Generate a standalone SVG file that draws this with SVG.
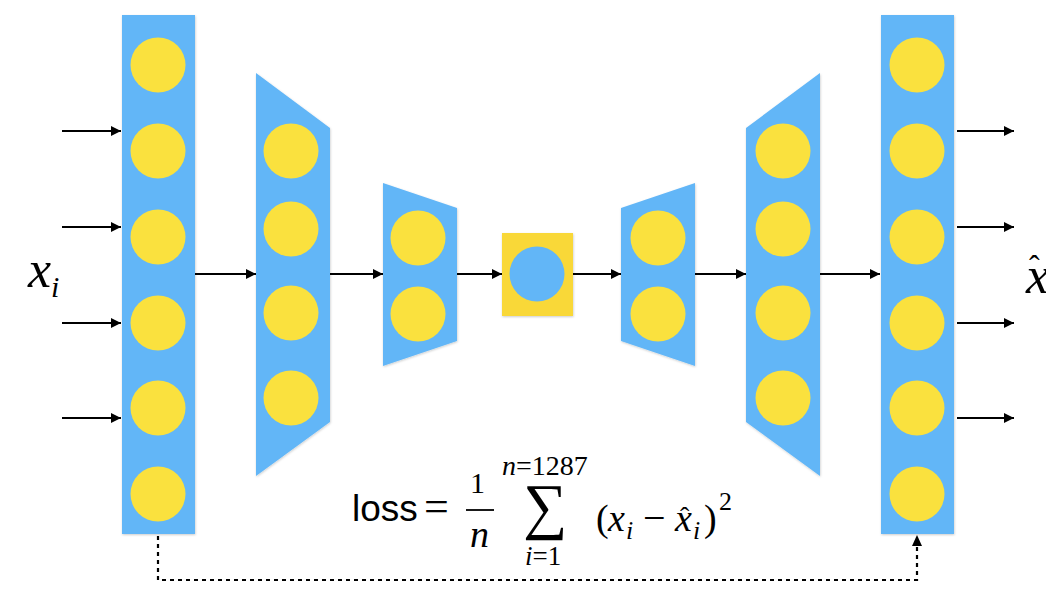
<svg xmlns="http://www.w3.org/2000/svg" width="1046" height="589" viewBox="0 0 1046 589">
<defs>
<marker id="ah" viewBox="0 0 10 10" refX="10" refY="5" markerWidth="10" markerHeight="10" markerUnits="userSpaceOnUse" orient="auto"><path d="M0,0 L10,5 L0,10 z" fill="#000"/></marker>
<filter id="sh" x="-10%" y="-10%" width="120%" height="120%"><feDropShadow dx="0.5" dy="1" stdDeviation="1" flood-color="#000" flood-opacity="0.2"/></filter>
<style>
.layer{fill:#62b6f7;filter:url(#sh)}
.node{fill:#fae13e}
.ln{stroke:#000;stroke-width:1.8;fill:none}
.dash{stroke:#000;stroke-width:2.2;fill:none;stroke-dasharray:4 4}
.m{font-family:"Liberation Serif","Times New Roman",serif;font-style:italic}
.r{font-family:"Liberation Serif","Times New Roman",serif}
</style>
</defs>
<rect width="1046" height="589" fill="#fff"/>
<g id="connectors">
<line class="ln" x1="62" y1="131" x2="121" y2="131" marker-end="url(#ah)"/>
<line class="ln" x1="62" y1="227" x2="121" y2="227" marker-end="url(#ah)"/>
<line class="ln" x1="62" y1="323" x2="121" y2="323" marker-end="url(#ah)"/>
<line class="ln" x1="62" y1="418" x2="121" y2="418" marker-end="url(#ah)"/>
<line class="ln" x1="195" y1="274" x2="256" y2="274" marker-end="url(#ah)"/>
<line class="ln" x1="330" y1="274" x2="383" y2="274" marker-end="url(#ah)"/>
<line class="ln" x1="457" y1="274" x2="502" y2="274" marker-end="url(#ah)"/>
<line class="ln" x1="573" y1="274" x2="621" y2="274" marker-end="url(#ah)"/>
<line class="ln" x1="695" y1="274" x2="746" y2="274" marker-end="url(#ah)"/>
<line class="ln" x1="820" y1="274" x2="880" y2="274" marker-end="url(#ah)"/>
<line class="ln" x1="957" y1="131" x2="1014" y2="131" marker-end="url(#ah)"/>
<line class="ln" x1="957" y1="227" x2="1014" y2="227" marker-end="url(#ah)"/>
<line class="ln" x1="957" y1="323" x2="1014" y2="323" marker-end="url(#ah)"/>
<line class="ln" x1="957" y1="418" x2="1014" y2="418" marker-end="url(#ah)"/>
<path class="dash" d="M158,536 V580 H917 V540"/>
<path d="M912,546 L917,535 L922,546 z" fill="#000"/>
</g>
<g id="input-layer">
<rect class="layer" x="122" y="15" width="73" height="519"/>
<circle class="node" cx="158" cy="65" r="27.5"/>
<circle class="node" cx="158" cy="151" r="27.5"/>
<circle class="node" cx="158" cy="237" r="27.5"/>
<circle class="node" cx="158" cy="323" r="27.5"/>
<circle class="node" cx="158" cy="408" r="27.5"/>
<circle class="node" cx="158" cy="494" r="27.5"/>
</g>
<g id="encoder-1">
<polygon class="layer" points="256,73 330,128 330,422 256,476"/>
<circle class="node" cx="291" cy="151" r="27.5"/>
<circle class="node" cx="291" cy="229" r="27.5"/>
<circle class="node" cx="291" cy="313" r="27.5"/>
<circle class="node" cx="291" cy="398" r="27.5"/>
</g>
<g id="encoder-2">
<polygon class="layer" points="383,183 457,208 457,341 383,366"/>
<circle class="node" cx="418" cy="238" r="27.5"/>
<circle class="node" cx="418" cy="314" r="27.5"/>
</g>
<g id="bottleneck">
<rect x="502" y="233" width="71" height="83" fill="#f9d838" filter="url(#sh)"/>
<circle cx="537" cy="274" r="27.5" fill="#62b6f7"/>
</g>
<g id="decoder-1">
<polygon class="layer" points="621,208 695,183 695,366 621,341"/>
<circle class="node" cx="658" cy="238" r="27.5"/>
<circle class="node" cx="658" cy="314" r="27.5"/>
</g>
<g id="decoder-2">
<polygon class="layer" points="746,128 820,73 820,476 746,422"/>
<circle class="node" cx="783" cy="151" r="27.5"/>
<circle class="node" cx="783" cy="229" r="27.5"/>
<circle class="node" cx="783" cy="313" r="27.5"/>
<circle class="node" cx="783" cy="398" r="27.5"/>
</g>
<g id="output-layer">
<rect class="layer" x="881" y="15" width="73" height="519"/>
<circle class="node" cx="917" cy="65" r="27.5"/>
<circle class="node" cx="917" cy="151" r="27.5"/>
<circle class="node" cx="917" cy="237" r="27.5"/>
<circle class="node" cx="917" cy="323" r="27.5"/>
<circle class="node" cx="917" cy="408" r="27.5"/>
<circle class="node" cx="917" cy="494" r="27.5"/>
</g>
<g id="labels">
<text class="m" x="28" y="287" font-size="52">x<tspan font-size="30" dy="10">i</tspan></text>
<text class="m" x="1026" y="293" font-size="52">x</text>
<text class="r" x="1029" y="277" font-size="32">ˆ</text>
</g>
<g id="loss">
<text x="352" y="521" font-family="Liberation Sans, Arial, sans-serif" font-size="37">loss</text>
<text class="r" x="424" y="521" font-size="44">=</text>
<text class="r" x="470" y="493" font-size="30">1</text>
<line x1="466" y1="510" x2="494" y2="510" stroke="#000" stroke-width="1.8"/>
<text class="m" x="470" y="547" font-size="38">n</text>
<text class="r" x="523" y="527" font-size="62">∑</text>
<text x="502" y="475" font-size="28"><tspan class="m">n</tspan><tspan class="r">=1287</tspan></text>
<text x="525" y="565" font-size="27"><tspan class="m">i</tspan><tspan class="r">=1</tspan></text>
<text font-size="38"><tspan class="r" x="596" y="531">(</tspan><tspan class="m" x="608" y="531">x</tspan><tspan class="m" font-size="26" x="626" y="539">i</tspan><tspan class="r" font-size="40" x="643" y="531">−</tspan><tspan class="m" x="675" y="531">x</tspan><tspan class="m" font-size="26" x="693" y="539">i</tspan><tspan class="r" x="704" y="531">)</tspan><tspan class="r" font-size="26" x="719" y="510">2</tspan></text>
<text class="r" x="680" y="526" font-size="28">ˆ</text>
</g>
</svg>
